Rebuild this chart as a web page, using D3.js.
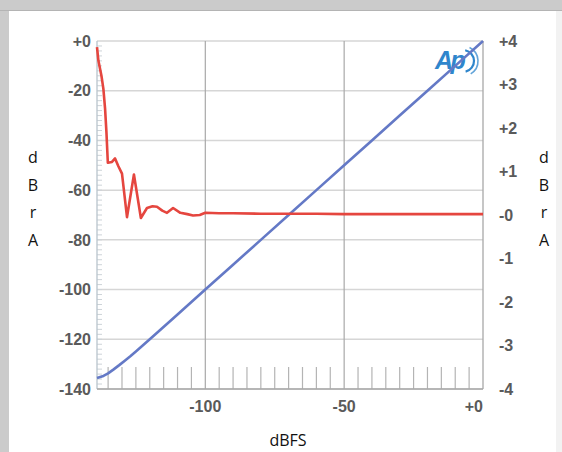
<!DOCTYPE html>
<html>
<head>
<meta charset="utf-8">
<script src="https://cdn.jsdelivr.net/npm/d3@7"></script>
<style>
  html, body { margin: 0; padding: 0; background: #fff; }
  svg { display: block; }
</style>
</head>
<body>
<svg id="chart" width="562" height="452"></svg>
<script>
// Input level sweep (dBFS) and measured results
const levelIn = [-139, -137, -135, -133, -131, -129, -127, -125, -120, -110, -100, -90, -80, -70, -60, -50, -40, -30, -20, -10, 0];
const levelOut = [-135.6, -134.9, -133.7, -132.1, -130.4, -128.6, -126.8, -124.9, -120, -110, -100, -90, -80, -70, -60, -50, -40, -30, -20, -10, 0];

const devIn = [-139, -138.5, -137.4, -136.7, -136.1, -135.6, -135.1, -133.6, -132.5, -131.3, -130, -128.2, -125.7, -123.2, -121, -119, -117.4, -115.5, -113.8, -111.6, -109, -106.5, -104.4, -102, -100, -95, -90, -80, -70, -60, -50, -40, -30, -20, -10, 0];
const devOut = [3.86, 3.55, 3.2, 2.9, 2.45, 1.9, 1.2, 1.22, 1.3, 1.12, 0.95, -0.05, 0.93, -0.07, 0.16, 0.2, 0.19, 0.1, 0.05, 0.16, 0.05, 0.02, -0.01, 0.0, 0.05, 0.04, 0.04, 0.03, 0.03, 0.03, 0.02, 0.02, 0.02, 0.02, 0.02, 0.02];

const xTicks = [-100, -50, 0];
const xTickLabels = ["-100", "-50", "+0"];
const leftTicks = [0, -20, -40, -60, -80, -100, -120, -140];
const leftTickLabels = ["+0", "-20", "-40", "-60", "-80", "-100", "-120", "-140"];
const rightTicks = [4, 3, 2, 1, 0, -1, -2, -3, -4];
const rightTickLabels = ["+4", "+3", "+2", "+1", "-0", "-1", "-2", "-3", "-4"];
const xMinor = d3.range(-135, 0, 5);
const leftMinor = d3.range(-138, 0, 2);

const svg = d3.select("#chart");
const W = 562, H = 452;
const L = 97, R = 483, T = 41, B = 389;

const x = d3.scaleLinear().domain([-139, 0]).range([L, R]);
const yL = d3.scaleLinear().domain([-140, 0]).range([B, T]);
const yR = d3.scaleLinear().domain([-4, 4]).range([B, T]);

// window frame
svg.append("rect").attr("width", W).attr("height", H).attr("fill", "#cbcbcb");
svg.append("rect").attr("x", 556).attr("y", 11).attr("width", 6).attr("height", H - 11).attr("fill", "#f2f2f2");
svg.append("line").attr("x1", 0).attr("x2", W).attr("y1", 10.5).attr("y2", 10.5).attr("stroke", "#b4b4b4");
svg.append("rect").attr("x", 9).attr("y", 11).attr("width", 547).attr("height", H - 11).attr("fill", "#fff");

// horizontal grid (left axis steps)
svg.append("g").selectAll("line").data(leftTicks).join("line")
  .attr("x1", L).attr("x2", R)
  .attr("y1", d => yL(d)).attr("y2", d => yL(d))
  .attr("stroke", "#d6d6d6").attr("stroke-width", 1.5);

// vertical grid
svg.append("g").selectAll("line").data(xTicks.slice(0, 2)).join("line")
  .attr("x1", d => x(d)).attr("x2", d => x(d))
  .attr("y1", T).attr("y2", B)
  .attr("stroke", "#a8a8a8").attr("stroke-width", 1.2);

// minor ticks along the bottom
svg.append("g").selectAll("line").data(xMinor.filter(d => d !== -100 && d !== -50)).join("line")
  .attr("x1", d => x(d)).attr("x2", d => x(d))
  .attr("y1", B - 22).attr("y2", B)
  .attr("stroke", "#b4b4b4").attr("stroke-width", 1.2);

// minor ticks along the left axis
svg.append("g").selectAll("line").data(leftMinor).join("line")
  .attr("x1", L).attr("x2", L + 5)
  .attr("y1", d => yL(d)).attr("y2", d => yL(d))
  .attr("stroke", "#cdd3d8").attr("stroke-width", 1);

// plot frame
svg.append("line").attr("x1", L).attr("x2", L).attr("y1", T).attr("y2", B).attr("stroke", "#b9c4cc").attr("stroke-width", 1.3);
svg.append("line").attr("x1", R).attr("x2", R).attr("y1", T).attr("y2", B).attr("stroke", "#a8a8a8").attr("stroke-width", 1.3);
svg.append("line").attr("x1", L).attr("x2", R).attr("y1", B).attr("y2", B).attr("stroke", "#a8a8a8").attr("stroke-width", 1.3);

// logo
const logoColor = "#2f86cc";
const logo = svg.append("g").attr("fill", "none").attr("stroke", logoColor).attr("transform", "translate(463,61)");
logo.append("path").attr("d", d3.arc()({innerRadius: 11, outerRadius: 11, startAngle: 0.2, endAngle: 2.9}))
  .attr("stroke-width", 2.2);
logo.append("path").attr("d", d3.arc()({innerRadius: 15, outerRadius: 15, startAngle: 0.45, endAngle: 2.6}))
  .attr("stroke-width", 1.6).attr("opacity", 0.75);
svg.append("text").attr("x", 435).attr("y", 69).text("Ap")
  .attr("font-family", "Liberation Sans, Arial, sans-serif").attr("font-style", "italic").attr("font-weight", "bold")
  .attr("font-size", 25).attr("fill", logoColor).attr("letter-spacing", -2.5);

// series
const blueLine = d3.line().x((d, i) => x(levelIn[i])).y(d => yL(d));
svg.append("path").datum(levelOut).attr("d", blueLine)
  .attr("fill", "none").attr("stroke", "#6479c6").attr("stroke-width", 2.6).attr("stroke-linejoin", "round");

const redLine = d3.line().x((d, i) => x(devIn[i])).y(d => yR(d));
svg.append("path").datum(devOut).attr("d", redLine)
  .attr("fill", "none").attr("stroke", "#e5463f").attr("stroke-width", 2.6).attr("stroke-linejoin", "round");

// tick labels
const tickFont = "Liberation Sans, Arial, sans-serif";
svg.append("g").selectAll("text").data(leftTicks).join("text")
  .attr("x", 91).attr("y", d => yL(d)).attr("dy", "0.36em")
  .attr("text-anchor", "end").text((d, i) => leftTickLabels[i])
  .attr("font-family", tickFont).attr("font-weight", "bold").attr("font-size", 16).attr("fill", "#5a5a5a");

svg.append("g").selectAll("text").data(rightTicks).join("text")
  .attr("x", 499).attr("y", d => yR(d)).attr("dy", "0.36em")
  .attr("text-anchor", "start").text((d, i) => rightTickLabels[i])
  .attr("font-family", tickFont).attr("font-weight", "bold").attr("font-size", 16).attr("fill", "#5a5a5a");

svg.append("g").selectAll("text").data(xTicks).join("text")
  .attr("x", d => x(d)).attr("y", 412)
  .attr("text-anchor", d => d === 0 ? "end" : "middle").text((d, i) => xTickLabels[i])
  .attr("font-family", tickFont).attr("font-weight", "bold").attr("font-size", 16).attr("fill", "#5a5a5a");

// axis titles
const titleFont = "Open Sans, DejaVu Sans, sans-serif";
const stacked = ["d", "B", "r", "A"];
[33, 544].forEach(cx => {
  svg.append("g").selectAll("text").data(stacked).join("text")
    .attr("x", cx).attr("y", (d, i) => 163 + i * 27.5)
    .attr("text-anchor", "middle").text(d => d)
    .attr("font-family", titleFont).attr("font-size", 16).attr("fill", "#111");
});
svg.append("text").attr("x", 288).attr("y", 446).attr("text-anchor", "middle").text("dBFS")
  .attr("font-family", titleFont).attr("font-size", 16).attr("fill", "#111");
</script>
</body>
</html>
